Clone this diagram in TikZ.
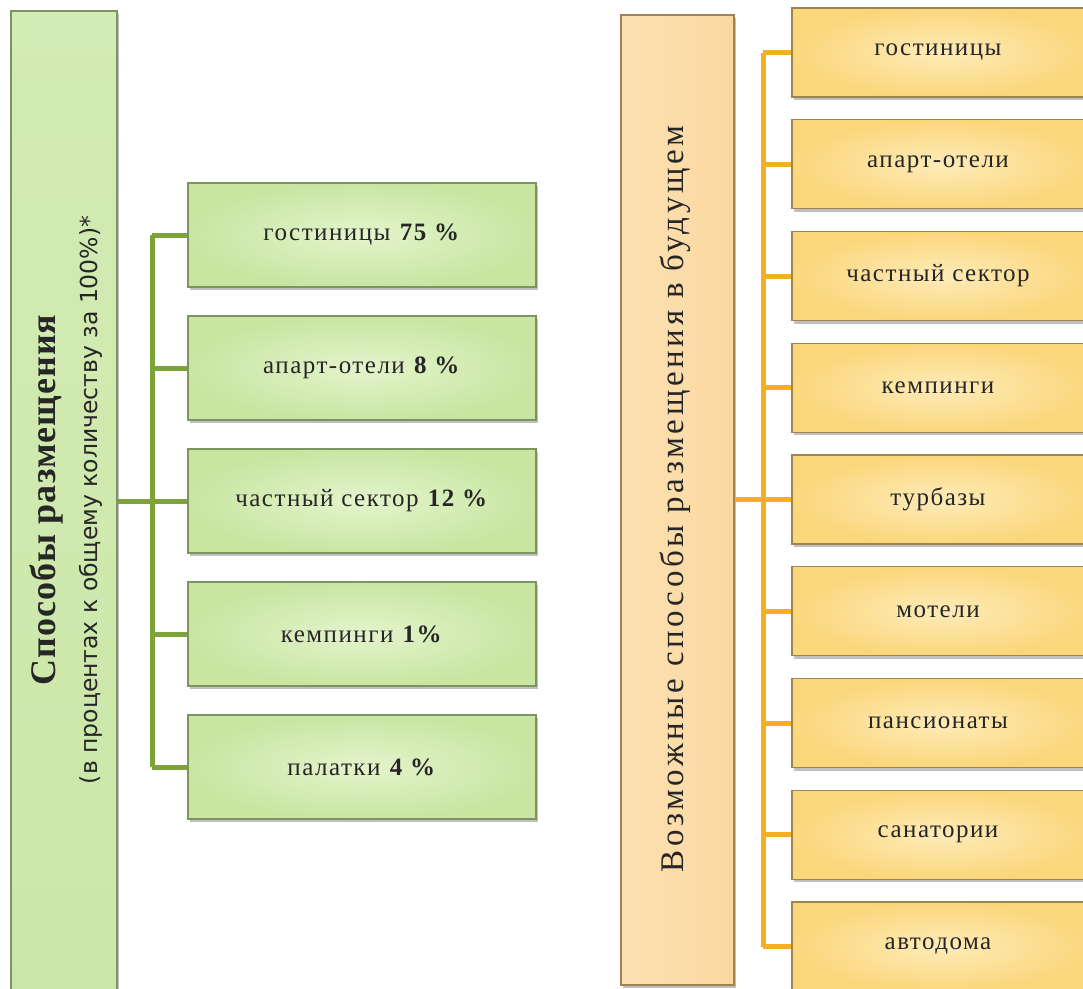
\documentclass[tikz,border=0pt]{standalone}
\usepackage{fontspec}
\setmainfont{Liberation Serif}
\newfontfamily\boxfont[LetterSpace=6]{Liberation Serif}
\newfontfamily\titlefont[LetterSpace=3]{Liberation Serif}
\newfontfamily\rtitlefont[LetterSpace=11]{Liberation Serif}
\newfontfamily\subfont{DejaVu Sans}
\usetikzlibrary{shadows}
\definecolor{gin}{HTML}{E4F4CC}
\definecolor{gout}{HTML}{C8E6A2}
\definecolor{gborder}{HTML}{7E9460}
\definecolor{glinec}{HTML}{7DA23A}
\definecolor{oin}{HTML}{FDEBB8}
\definecolor{oout}{HTML}{FBD77C}
\definecolor{oborder}{HTML}{9E8450}
\definecolor{olinec}{HTML}{F4B022}
\definecolor{mainO}{HTML}{FDE1B2}
\definecolor{mainOb}{HTML}{FBD8A0}
\definecolor{mainG}{HTML}{CBE7A8}
\definecolor{mainGb}{HTML}{D3EBB4}
\definecolor{txt}{HTML}{262626}
\tikzset{
  shad/.style={drop shadow={opacity=0.35, shadow xshift=2pt, shadow yshift=-3pt, fill=black!70}},
  gbox/.style={rectangle, draw=gborder, line width=1.2pt, inner color=gin, outer color=gout,
    minimum width=348pt, minimum height=104pt, shad, text=txt,
    font=\boxfont\fontsize{25}{29}\selectfont},
  obox/.style={rectangle, draw=oborder, line width=1.2pt, inner color=oin, outer color=oout,
    minimum width=300pt, minimum height=89pt, shad, text=txt,
    font=\boxfont\fontsize{25}{29}\selectfont},
  gmain/.style={rectangle, draw=gborder, line width=1.2pt, top color=mainGb, bottom color=mainG,
    minimum width=106pt, minimum height=1000pt, shad},
  omain/.style={rectangle, draw=oborder, line width=1.2pt, left color=mainO, right color=mainOb,
    minimum width=113pt, minimum height=970pt, shad},
  gcon/.style={draw=glinec, line width=5pt},
  ocon/.style={draw=olinec, line width=5pt},
}
\begin{document}
\begin{tikzpicture}[x=1pt,y=-1pt]
\useasboundingbox (0,0) rectangle (1083,988);
\fill[white] (0,0) rectangle (1083,988);
\clip (0,0) rectangle (1083,988);

% left main box
\node[gmain] (L) at (64,511) {};
\node[rotate=90, text=txt, font=\titlefont\bfseries\fontsize{36}{40}\selectfont] (Lt) at (46,500) {Способы размещения};
\node[rotate=90, text=txt, font=\subfont\fontsize{23.5}{26}\selectfont] (Ls) at (91,500) {(в процентах к общему количеству за 100\%)*};

% green boxes
\node[gbox] (g1) at (362,235) {гостиницы \textbf{75 \%}};
\node[gbox] (g2) at (362,368) {апарт-отели \textbf{8 \%}};
\node[gbox] (g3) at (362,501) {частный сектор \textbf{12 \%}};
\node[gbox] (g4) at (362,634) {кемпинги \textbf{1\%}};
\node[gbox] (g5) at (362,767) {палатки \textbf{4 \%}};

\coordinate (gt) at (152,235);
\coordinate (gb) at (152,767);
\draw[gcon] (gt) -- (gb);
\draw[gcon] (L.east |- g3.west) -- (g3.west -| gt);
\foreach \i in {1,...,5} {\draw[gcon] (g\i.west) -- (g\i.west -| gt);}

% right main box
\node[omain] (R) at (677.5,500) {};
\node[rotate=90, text=txt, font=\rtitlefont\fontsize{33}{37}\selectfont] (Rt) at (675,499) {Возможные способы размещения в будущем};

% orange boxes (right edge runs off the picture)
\foreach \i/\t [count=\k from 0] in {1/гостиницы,2/апарт-отели,3/частный сектор,4/кемпинги,5/турбазы,6/мотели,7/пансионаты,8/санатории,9/автодома} {
  \node[obox] (o\i) at (942,52.5+111.75*\k) {\t\kern8pt};
}
\coordinate (ot) at (763,52.5);
\coordinate (ob) at (763,946.5);
\draw[ocon] (ot) -- (ob);
\draw[ocon] (R.east |- o5.west) -- (o5.west -| ot);
\foreach \i in {1,...,9} {\draw[ocon] (o\i.west) -- (o\i.west -| ot);}
\end{tikzpicture}
\end{document}
